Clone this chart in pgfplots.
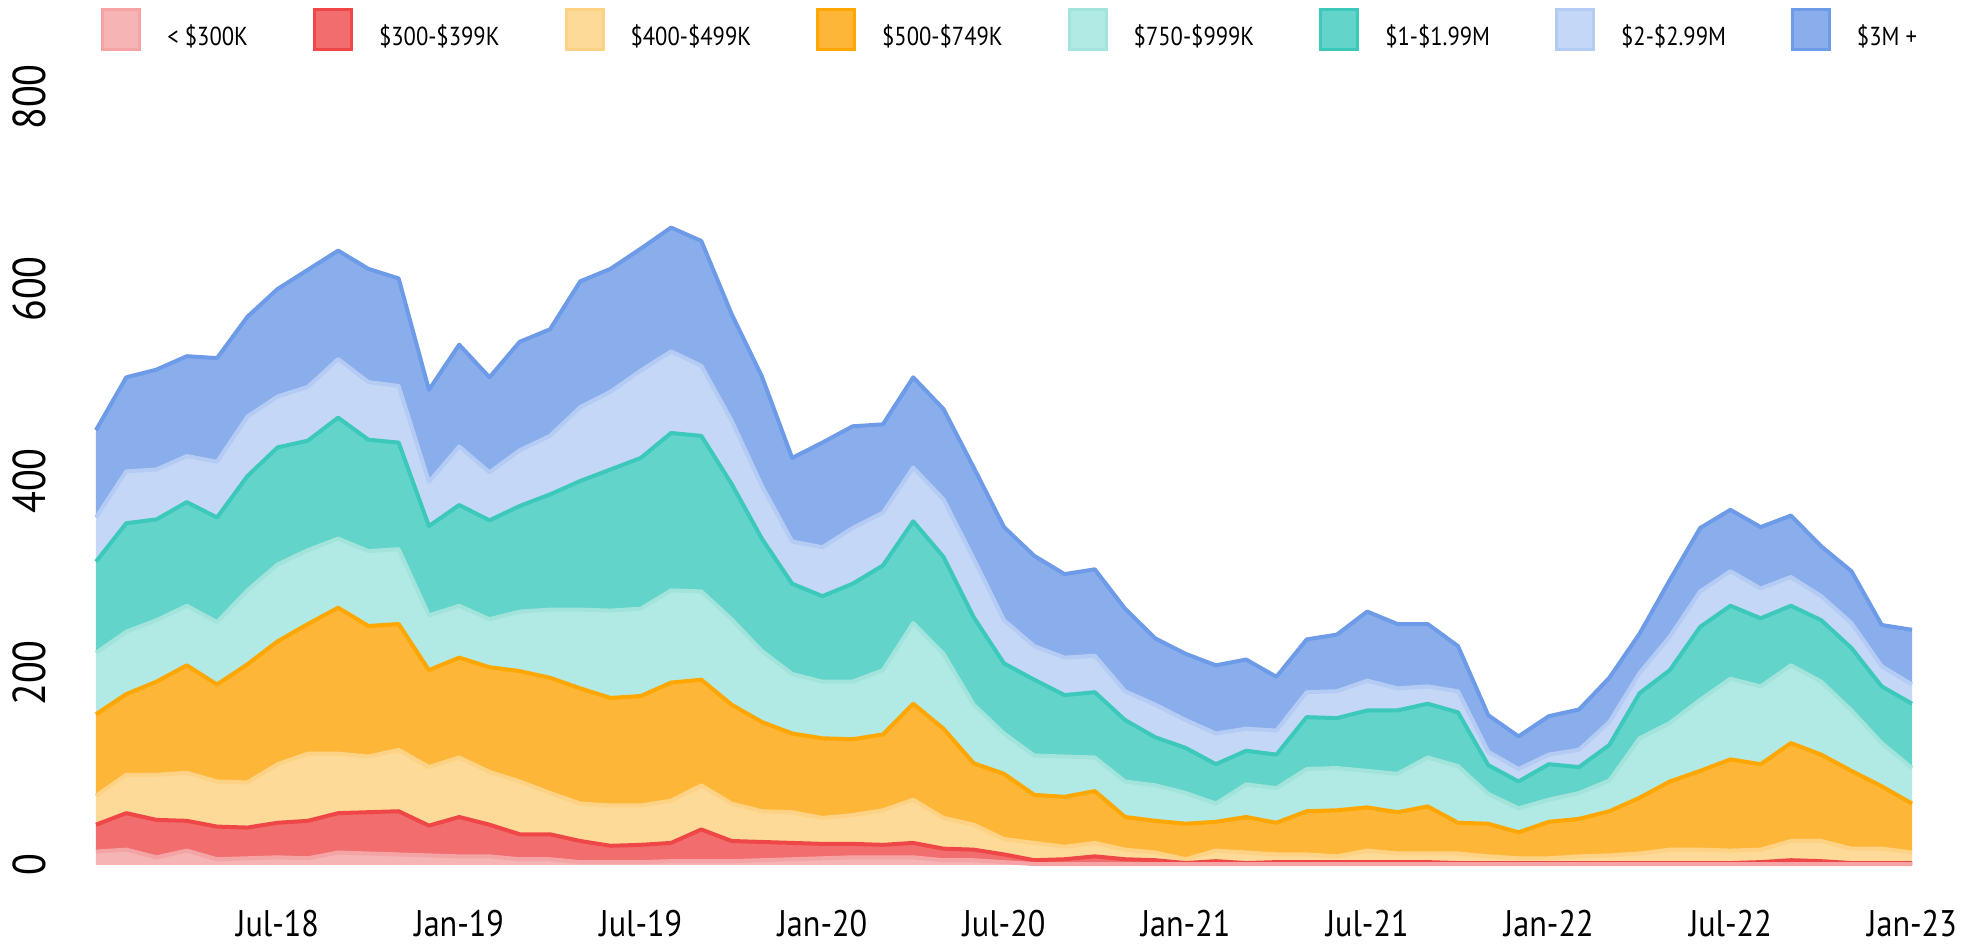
\documentclass[border=0pt]{standalone}
\usepackage{fontspec}
\setmainfont{PT Sans}
\newfontfamily\condfont{PT Sans}[FakeStretch=0.87]
\usepackage{pgfplots}
\usepackage{pgfplotstable}
\pgfplotsset{compat=1.18}

\definecolor{c1f}{HTML}{F6B4B4}\definecolor{c1d}{HTML}{F4A4A4}
\definecolor{c2f}{HTML}{F26D6E}\definecolor{c2d}{HTML}{EF4747}
\definecolor{c3f}{HTML}{FDDA98}\definecolor{c3d}{HTML}{FDD284}
\definecolor{c4f}{HTML}{FDB638}\definecolor{c4d}{HTML}{FFA600}
\definecolor{c5f}{HTML}{B1EAE4}\definecolor{c5d}{HTML}{A2E4DC}
\definecolor{c6f}{HTML}{62D4CA}\definecolor{c6d}{HTML}{3CC8BA}
\definecolor{c7f}{HTML}{C4D7F6}\definecolor{c7d}{HTML}{B4CBF4}
\definecolor{c8f}{HTML}{8AAEEC}\definecolor{c8d}{HTML}{6D9BE8}

% monthly values, Jan-18 (0) to Jan-23 (60)
\pgfplotstableread{
x a b c d e f g h
0 14 28 30 85 64 95 46 91
1 16 38 40 84 65 113 54 98
2 8 39 47 97 64 105 52 104
3 15 31 50 112 62 108 48 104
4 6 34 47 101 65 109 58 108
5 7 32 47 123 77 119 62 104
6 8 36 61 128 80 122 53 112
7 7 39 70 135 77 114 56 122
8 13 41 62 152 72 126 61 113
9 12 43 58 136 78 116 60 118
10 11 45 64 131 78 111 59 112
11 10 31 61 101 57 93 46 96
12 9 41 62 104 54 105 61 106
13 9 33 55 109 50 103 50 99
14 6 26 55 115 62 110 58 113
15 6 26 43 120 71 120 61 111
16 3 22 39 120 82 134 77 131
17 3 17 42 112 91 147 81 128
18 3 18 41 114 91 157 91 127
19 4 19 44 123 96 164 85 129
20 4 33 46 110 92 162 73 130
21 4 21 39 103 89 141 66 111
22 5 19 32 93 74 117 55 114
23 6 17 32 82 62 94 44 87
24 7 15 27 83 59 89 51 109
25 8 14 30 79 60 102 58 106
26 8 13 36 79 67 109 55 92
27 8 15 45 100 84 106 56 94
28 5 12 32 93 78 101 60 94
29 5 11 26 64 61 91 61 95
30 3 8 16 68 42 73 45 97
31 1 4 18 50 41 79 35 94
32 1 5 13 52 42 64 39 87
33 1 8 14 54 35 68 38 90
34 1 5 10 34 37 64 30 86
35 1 4 8 33 37 50 34 69
36 1 1 4 37 32 47 29 69
37 1 3 11 30 19 41 32 71
38 1 1 11 37 34 35 23 72
39 1 2 8 33 36 35 25 56
40 1 2 8 45 44 54 26 55
41 1 2 6 48 44 52 28 59
42 1 2 12 45 38 63 31 72
43 1 2 9 43 40 66 23 67
44 1 2 9 49 51 56 18 65
45 1 1 10 32 59 56 22 47
46 1 1 7 34 31 30 14 38
47 1 1 5 27 25 28 13 34
48 1 1 5 38 23 37 10 40
49 1 1 7 39 27 27 18 42
50 1 1 8 46 32 37 24 46
51 1 1 10 58 62 47 21 41
52 1 1 14 71 61 55 35 59
53 1 1 14 82 74 76 37 66
54 1 1 13 95 84 76 36 64
55 1 2 13 89 81 71 31 64
56 1 4 20 102 81 62 30 64
57 1 3 21 90 76 64 25 52
58 1 1 15 81 63 65 26 54
59 1 1 15 65 45 59 21 43
60 1 1 11 51 37 67 20 57
}\datatable

\pgfplotsset{
  common/.style={
    scale only axis, width=908pt, height=384pt,
    xmin=0, xmax=60, ymin=0, ymax=800,
    clip=false, stack plots=y,
  },
}

\begin{document}
\begin{tikzpicture}
\path[use as bounding box] (-48pt,-41pt) rectangle (945pt,432.5pt);
\begin{axis}[
  common,
  axis line style={draw=none}, major tick length=0pt,
  xtick={6,12,18,24,30,36,42,48,54,60},
  xticklabels={Jul-18,Jan-19,Jul-19,Jan-20,Jul-20,Jan-21,Jul-21,Jan-22,Jul-22,Jan-23},
  ytick={0,200,400,600,800},
  yticklabels={0,200,400,600,800},
  xticklabel style={font=\condfont\fontsize{18.5pt}{20pt}\selectfont, anchor=base, yshift=-35.9pt, inner sep=0pt},
  yticklabel style={font=\condfont\fontsize{23pt}{25pt}\selectfont, xshift=-25pt, rotate=90, anchor=base, inner sep=0pt},
  legend columns=-1,
  legend image code/.code={\draw[#1] (0pt,-6pt) rectangle (18.5pt,14pt);},
  legend style={draw=none, fill=none, inner sep=0pt, outer sep=0pt,
    at={(axis description cs:0.003,1.0885)}, anchor=west,
    font=\condfont\fontsize{13pt}{15pt}\selectfont,
    nodes={inner sep=0pt},
    /tikz/every odd column/.append style={column sep=13pt},
    /tikz/every even column/.append style={column sep=32.5pt}},
]
\addplot[fill=c1f, draw=none, forget plot] table[x=x,y=a]{\datatable} \closedcycle;
\addplot[fill=c2f, draw=none, forget plot] table[x=x,y=b]{\datatable} \closedcycle;
\addplot[fill=c3f, draw=none, forget plot] table[x=x,y=c]{\datatable} \closedcycle;
\addplot[fill=c4f, draw=none, forget plot] table[x=x,y=d]{\datatable} \closedcycle;
\addplot[fill=c5f, draw=none, forget plot] table[x=x,y=e]{\datatable} \closedcycle;
\addplot[fill=c6f, draw=none, forget plot] table[x=x,y=f]{\datatable} \closedcycle;
\addplot[fill=c7f, draw=none, forget plot] table[x=x,y=g]{\datatable} \closedcycle;
\addplot[fill=c8f, draw=none, forget plot] table[x=x,y=h]{\datatable} \closedcycle;
\addlegendimage{fill=c1f, draw=c1d, line width=1.5pt}\addlegendentry{< \$300K}
\addlegendimage{fill=c2f, draw=c2d, line width=1.5pt}\addlegendentry{\$300-\$399K}
\addlegendimage{fill=c3f, draw=c3d, line width=1.5pt}\addlegendentry{\$400-\$499K}
\addlegendimage{fill=c4f, draw=c4d, line width=1.5pt}\addlegendentry{\$500-\$749K}
\addlegendimage{fill=c5f, draw=c5d, line width=1.5pt}\addlegendentry{\$750-\$999K}
\addlegendimage{fill=c6f, draw=c6d, line width=1.5pt}\addlegendentry{\$1-\$1.99M}
\addlegendimage{fill=c7f, draw=c7d, line width=1.5pt}\addlegendentry{\$2-\$2.99M}
\addlegendimage{fill=c8f, draw=c8d, line width=1.5pt}\addlegendentry{\$3M +}
\end{axis}
\begin{axis}[common, hide axis]
\addplot[draw=c1d, line width=2pt, line join=round] table[x=x,y=a]{\datatable};
\addplot[draw=c2d, line width=2pt, line join=round] table[x=x,y=b]{\datatable};
\addplot[draw=c3d, line width=2pt, line join=round] table[x=x,y=c]{\datatable};
\addplot[draw=c4d, line width=2pt, line join=round] table[x=x,y=d]{\datatable};
\addplot[draw=c5d, line width=2pt, line join=round] table[x=x,y=e]{\datatable};
\addplot[draw=c6d, line width=2pt, line join=round] table[x=x,y=f]{\datatable};
\addplot[draw=c7d, line width=2pt, line join=round] table[x=x,y=g]{\datatable};
\addplot[draw=c8d, line width=2pt, line join=round] table[x=x,y=h]{\datatable};
\end{axis}
\end{tikzpicture}
\end{document}
